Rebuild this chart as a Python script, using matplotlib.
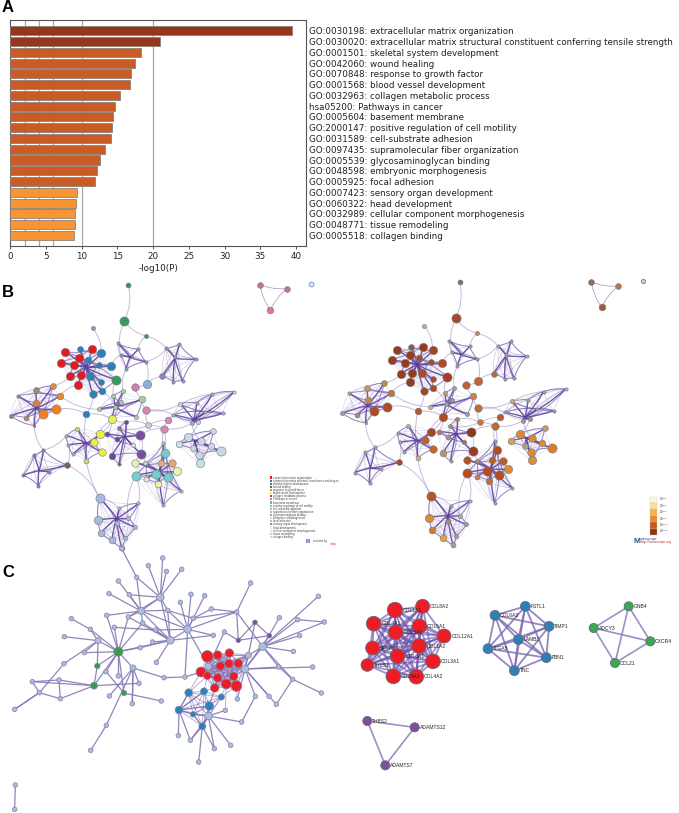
import itertools
import matplotlib
matplotlib.use("Agg")
import matplotlib.pyplot as plt
from matplotlib.collections import LineCollection
from matplotlib.patches import PathPatch, Rectangle
from matplotlib.path import Path

# ---- panel A
go_terms = [
    "GO:0030198: extracellular matrix organization",
    "GO:0030020: extracellular matrix structural constituent conferring tensile strength",
    "GO:0001501: skeletal system development",
    "GO:0042060: wound healing",
    "GO:0070848: response to growth factor",
    "GO:0001568: blood vessel development",
    "GO:0032963: collagen metabolic process",
    "hsa05200: Pathways in cancer",
    "GO:0005604: basement membrane",
    "GO:2000147: positive regulation of cell motility",
    "GO:0031589: cell-substrate adhesion",
    "GO:0097435: supramolecular fiber organization",
    "GO:0005539: glycosaminoglycan binding",
    "GO:0048598: embryonic morphogenesis",
    "GO:0005925: focal adhesion",
    "GO:0007423: sensory organ development",
    "GO:0060322: head development",
    "GO:0032989: cellular component morphogenesis",
    "GO:0048771: tissue remodeling",
    "GO:0005518: collagen binding",
]
log_p = [39.5, 20.9, 18.3, 17.4, 16.9, 16.8, 15.3, 14.7, 14.4, 14.3,
         14.1, 13.2, 12.5, 12.2, 11.8, 9.3, 9.25, 9.1, 9.0, 8.9]
bar_colors = ["#96361c"] * 2 + ["#c95c26"] * 13 + ["#f79433"] * 5

# ---- panel B, same layout on both sides. x, y, radius, left colour, right colour
# coordinates are read at 3x zoom, left panel
kernel_nodes = [
    (196, 217, 10, "#e41a1c", "#9a3a1c"), (275, 208, 10, "#e41a1c", "#9a3a1c"),
    (236, 234, 10, "#e41a1c", "#9a3a1c"), (183, 249, 10, "#e41a1c", "#9a3a1c"),
    (222, 256, 10, "#e41a1c", "#9a3a1c"), (210, 289, 10, "#e41a1c", "#9a3a1c"),
    (243, 286, 10, "#e41a1c", "#9a3a1c"), (235, 314, 10, "#e41a1c", "#9a3a1c"),
    (240, 208, 7, "#2f7fb8", "#8a5a44"), (304, 219, 10, "#2f7fb8", "#a8431f"),
    (263, 241, 8, "#2f7fb8", "#a0503a"), (332, 257, 10, "#2f7fb8", "#b04a24"),
    (298, 255, 7, "#2f7fb8", "#a04a2a"), (271, 288, 10, "#2f7fb8", "#b04a24"),
    (304, 305, 7, "#2f7fb8", "#a84a24"), (305, 333, 8, "#2f7fb8", "#a84a24"),
    (279, 342, 9, "#2f7fb8", "#a04a2a"), (348, 299, 11, "#3a9a5a", "#a83c1c"),
]
top_nodes = [
    (385, 14, 6, "#3d8c6e", "#8a6a5a"), (373, 123, 11, "#3a9a5a", "#a84a28"),
    (279, 145, 5, "#8aa0b8", "#b0b0a8"), (437, 168, 5, "#4a9070", "#b09070"),
]
triangle_nodes = [
    (780, 14, 7, "#c07888", "#9a6a50"), (861, 26, 7, "#c07888", "#c07840"),
    (811, 90, 8, "#e07888", "#a85a30"),
]
upper_mid_nodes = [
    (353, 190, 4, "#8a9cc0", "#a09a90"), (415, 207, 4, "#8a9cc0", "#a09a90"),
    (438, 245, 4, "#8a9cc0", "#a09a90"), (378, 267, 4, "#8a9cc0", "#a09a90"),
    (362, 225, 4, "#8a9cc0", "#a09a90"), (395, 232, 3, "#8a9cc0", "#a09a90"),
]
upper_right_nodes = [
    (499, 205, 4, "#8a9cc0", "#a0a0a8"), (538, 192, 4, "#8a9cc0", "#a0a0a8"),
    (587, 237, 4, "#8a9cc0", "#b0b0b0"), (548, 303, 4, "#8a9cc0", "#a0a0a8"),
    (520, 305, 4, "#8a9cc0", "#a0a0a8"), (487, 289, 7, "#8f88b8", "#b07040"),
    (525, 232, 4, "#8a9cc0", "#a0a0a8"),
]
green_nodes = [
    (369, 333, 5, "#a8d090", "#b0a080"), (340, 348, 5, "#a8d090", "#b0a080"),
    (363, 367, 5, "#a8d090", "#b09070"), (296, 388, 5, "#a8d090", "#d0b080"),
    (345, 380, 5, "#a8d090", "#a0a0a0"), (408, 410, 5, "#a8d090", "#a0a090"),
    (426, 357, 8, "#a8d090", "#c88050"), (336, 418, 10, "#e8f050", "#b04a20"),
]
side_nodes = [
    (440, 311, 10, "#8ab0d8", "#c8622c"), (405, 322, 9, "#d080a8", "#c06030"),
    (439, 391, 9, "#d888b0", "#c06a34"), (259, 402, 8, "#2f7fb8", "#b05a2a"),
]
orange_nodes = [
    (158, 317, 7, "#e08a40", "#c08850"), (107, 331, 7, "#a08868", "#c09858"),
    (180, 347, 8, "#e8882c", "#c07838"), (53, 348, 4, "#908878", "#a0a0a0"),
    (109, 368, 8, "#e0802c", "#c08850"), (129, 401, 11, "#f08020", "#b04a20"),
    (167, 388, 11, "#f08020", "#b04a20"), (78, 414, 6, "#c08860", "#a89068"),
    (33, 408, 5, "#908878", "#a0a0a0"), (103, 437, 3, "#908878", "#a0a0a0"),
]
right_nodes = [
    (703, 335, 4, "#c8d0dc", "#b0b0b8"), (637, 343, 4, "#a8a8c8", "#a0a0a8"),
    (590, 368, 4, "#a8a8c8", "#a0a0a8"), (541, 372, 5, "#c8d0dc", "#d8a858"),
    (668, 400, 4, "#a8a8c8", "#a0a0a8"), (616, 395, 4, "#a8a8c8", "#a0a0a8"),
    (520, 405, 4, "#a8a8c8", "#a0a0a8"), (595, 425, 5, "#c8d0dc", "#b09070"),
    (575, 430, 5, "#a8a8c8", "#a09a90"),
]
pink_nodes = [
    (505, 420, 8, "#d888b0", "#b85a2a"), (492, 446, 9, "#d888b0", "#c06a30"),
    (445, 435, 7, "#c8d0dc", "#c87a34"),
]
pale_blue_nodes = [
    (640, 453, 7, "#c8d8e8", "#b8a070"), (565, 470, 10, "#c8d8e8", "#e08a30"),
    (538, 491, 8, "#c8e0e8", "#d8a050"), (580, 505, 7, "#c8d8e8", "#b0a080"),
    (603, 483, 9, "#c8d8e8", "#e08a30"), (632, 497, 8, "#c8d8e8", "#e08a30"),
    (663, 512, 11, "#c8d8e8", "#e07a28"), (598, 525, 9, "#c8d8e8", "#e08a30"),
    (601, 548, 10, "#c8e0e0", "#d89030"),
]
purple_nodes = [
    (378, 425, 5, "#6a4a9a", "#b08050"), (357, 445, 5, "#8a78b8", "#b09060"),
    (420, 465, 11, "#7c4f9c", "#8a3a1c"), (350, 478, 6, "#6a4a9a", "#b09070"),
    (322, 463, 6, "#6a4a9a", "#b08050"), (398, 495, 5, "#d8e8d8", "#b07050"),
    (424, 522, 11, "#7c4f9c", "#a03c1c"), (335, 528, 8, "#6a4a9a", "#c09060"),
    (358, 552, 4, "#6a5a8a", "#a0a090"),
]
yellow_nodes = [
    (299, 463, 10, "#eef040", "#a84820"), (281, 487, 9, "#eef040", "#c06028"),
    (305, 516, 9, "#eef040", "#c8642c"), (259, 542, 6, "#c8d880", "#d0b080"),
    (231, 447, 5, "#b8d890", "#b0b0a0"), (199, 467, 4, "#a8a8c8", "#a0a0a8"),
    (205, 495, 4, "#a8a8c8", "#a0a0a8"), (218, 523, 4, "#a8a8c8", "#a0a0a8"),
]
lower_left_nodes = [
    (101, 525, 4, "#8a78b8", "#a0a0a8"), (130, 510, 4, "#8a78b8", "#a0a0a8"),
    (202, 555, 7, "#806050", "#a84a28"), (148, 575, 4, "#8a78b8", "#a0a0a8"),
    (115, 617, 4, "#8a78b8", "#a0a0a8"), (70, 586, 4, "#8a78b8", "#a0a0a8"),
]
teal_nodes = [
    (496, 518, 10, "#70d0c8", "#b84c20"), (407, 587, 11, "#70d0c8", "#b84c20"),
    (468, 581, 11, "#70d0c8", "#b84c20"), (503, 592, 11, "#70d0c8", "#b84c20"),
    (406, 548, 9, "#e8f0b0", "#b85020"), (483, 549, 8, "#e0b070", "#b86028"),
    (515, 550, 9, "#e0a870", "#b86028"), (530, 574, 10, "#f0f0b0", "#e08a30"),
    (474, 611, 8, "#f0f0b0", "#c86a30"), (437, 598, 6, "#e8f0c0", "#b88050"),
    (436, 550, 5, "#c8d8c0", "#b09070"), (490, 490, 4, "#a8c8b8", "#a0a090"),
    (543, 632, 4, "#a8a8c8", "#a0a0a8"), (490, 676, 4, "#a8a8c8", "#a0a0a8"),
]
bottom_nodes = [
    (299, 655, 11, "#a8b8dc", "#b8522a"), (294, 721, 10, "#a8b8dc", "#e08a30"),
    (303, 759, 8, "#a8b8dc", "#d07a30"), (336, 781, 8, "#a8b8dc", "#e8a030"),
    (365, 803, 6, "#a8b8dc", "#a0a098"), (375, 775, 5, "#a8b8dc", "#a0a098"),
    (405, 741, 5, "#a8b8dc", "#a0a098"), (385, 715, 5, "#a8b8dc", "#b0b090"),
    (415, 670, 4, "#a8b8dc", "#b0b090"), (358, 685, 4, "#a8b8dc", "#a0a098"),
    (350, 730, 6, "#a8b8dc", "#a09060"),
]

# groups: nodes, star centre, how strong the pairwise web is
b_groups = [
    (kernel_nodes, (258, 262), 0.12), (upper_mid_nodes, (390, 232), 0.45),
    (upper_right_nodes, (525, 235), 0.45), (green_nodes, (345, 380), 0.25),
    (orange_nodes, (108, 385), 0.35), (right_nodes, (580, 420), 0.4),
    (pale_blue_nodes, (585, 482), 0.3), (purple_nodes, (375, 470), 0.2),
    (yellow_nodes, (260, 490), 0.3), (lower_left_nodes, (117, 572), 0.5),
    (teal_nodes, (478, 575), 0.22), (bottom_nodes, (350, 715), 0.3),
    (triangle_nodes, None, 0.9), (pink_nodes, None, 0.7),
]
b_links = [
    (top_nodes, 0, top_nodes, 1), (top_nodes, 1, upper_mid_nodes, 4),
    (top_nodes, 2, kernel_nodes, 9), (top_nodes, 3, upper_mid_nodes, 1),
    (top_nodes, 3, upper_right_nodes, 0), (top_nodes, 1, top_nodes, 3),
    (kernel_nodes, 11, upper_mid_nodes, 4), (kernel_nodes, 17, kernel_nodes, 13),
    (kernel_nodes, 15, green_nodes, 4), (kernel_nodes, 17, green_nodes, 1),
    (kernel_nodes, 5, orange_nodes, 0), (kernel_nodes, 7, orange_nodes, 2),
    (kernel_nodes, 16, side_nodes, 3), (side_nodes, 3, orange_nodes, 6),
    (side_nodes, 3, green_nodes, 7), (side_nodes, 3, bottom_nodes, 0),
    (side_nodes, 0, side_nodes, 1), (side_nodes, 0, upper_mid_nodes, 2),
    (side_nodes, 0, upper_right_nodes, 5), (side_nodes, 1, green_nodes, 6),
    (side_nodes, 2, green_nodes, 6), (side_nodes, 2, pink_nodes, 2),
    (green_nodes, 6, green_nodes, 4), (green_nodes, 7, purple_nodes, 0),
    (green_nodes, 7, yellow_nodes, 0), (green_nodes, 7, yellow_nodes, 1),
    (green_nodes, 7, purple_nodes, 4), (pink_nodes, 1, right_nodes, 8),
    (pink_nodes, 0, right_nodes, 6), (pink_nodes, 2, purple_nodes, 0),
    (pink_nodes, 2, purple_nodes, 1), (pink_nodes, 1, purple_nodes, 2),
    (right_nodes, 7, pale_blue_nodes, 1), (right_nodes, 8, pale_blue_nodes, 4),
    (pink_nodes, 1, teal_nodes, 5), (pink_nodes, 1, teal_nodes, 11),
    (purple_nodes, 2, purple_nodes, 6), (purple_nodes, 6, teal_nodes, 4),
    (purple_nodes, 6, teal_nodes, 10), (yellow_nodes, 0, purple_nodes, 4),
    (yellow_nodes, 5, lower_left_nodes, 1), (lower_left_nodes, 2, yellow_nodes, 6),
    (lower_left_nodes, 2, bottom_nodes, 0), (orange_nodes, 9, lower_left_nodes, 1),
    (teal_nodes, 1, bottom_nodes, 8), (teal_nodes, 1, bottom_nodes, 7),
    (bottom_nodes, 0, bottom_nodes, 9), (side_nodes, 2, right_nodes, 3),
    (teal_nodes, 3, teal_nodes, 12), (teal_nodes, 2, teal_nodes, 13),
    (upper_right_nodes, 0, upper_mid_nodes, 2), (upper_mid_nodes, 3, green_nodes, 0),
    (side_nodes, 2, right_nodes, 6), (orange_nodes, 2, green_nodes, 3),
]

legend_terms = [
    "extracellular matrix organization",
    "extracellular matrix structural constituent conferring te",
    "skeletal system development",
    "wound healing",
    "response to growth factor",
    "blood vessel development",
    "collagen metabolic process",
    "Pathways in cancer",
    "basement membrane",
    "positive regulation of cell motility",
    "cell-substrate adhesion",
    "supramolecular fiber organization",
    "glycosaminoglycan binding",
    "embryonic morphogenesis",
    "focal adhesion",
    "sensory organ development",
    "head development",
    "cellular component morphogenesis",
    "tissue remodeling",
    "collagen binding",
]
legend_colors = ["#e41a1c", "#2f7fb8", "#3a9a5a", "#7c4f9c", "#e8882c", "#eef040", "#806050",
                 "#e07888", "#8aa0b8", "#70d0c8", "#e0b070", "#a8b8dc", "#d888b0", "#c8d8e8",
                 "#a8d090", "#8f88b8", "#f0f0b0", "#d8e8d8", "#c8d0dc", "#c8e0e0"]
scale_colors = ["#fdf6d8", "#fbdf9a", "#f5b44c", "#ea8a2e", "#c85a24", "#8c3318"]
scale_labels = ["10$^{-2}$", "10$^{-3}$", "10$^{-4}$", "10$^{-6}$", "10$^{-10}$", "10$^{-20}$"]

# ---- panel C, left network
c_x = [481, 423, 563, 511, 294, 399, 788, 735, 745, 625, 625,
       365, 410, 445, 488, 499, 545, 388, 503, 355, 327, 320, 385, 428, 467, 458, 421, 469,
       541, 573, 614, 634, 580, 710, 752, 640, 673, 838, 893, 955, 973, 899, 880, 836, 938,
       878, 964, 829, 807, 766, 712, 676, 725, 692, 643, 596, 571, 535, 555, 492, 484, 417,
       397, 355, 318, 328, 319, 272, 253, 192, 193, 214, 271, 343, 177, 181, 118, 97, 44,
       46, 44,
       355, 292, 282, 372,
       765, 808, 715,
       622, 653, 688, 661, 687, 715, 603, 622, 653, 701, 644, 679, 709,
       566, 612, 664, 628, 537, 579, 607]
c_y = [142, 183, 238, 271, 272, 354, 290, 357, 316, 498, 350,
       -4, 82, 47, 24, 64, 58, 134, 181, 93, 131, 196, 201, 219, 240, 276, 293, 337,
       157, 133, 137, 177, 205, 186, 99, 256, 246, 203, 209, 139, 216, 257, 304, 351, 351,
       388, 429, 463, 439, 439, 447, 481, 516, 586, 596, 636, 571, 557, 381, 383, 453, 400,
       461, 378, 365, 438, 526, 601, 308, 341, 260, 206, 238, 232, 390, 446, 428, 395, 478,
       705, 778,
       305, 348, 407, 429,
       217, 257, 271,
       319, 315, 309, 348, 341, 340, 366, 377, 384, 379, 414, 402, 408,
       428, 424, 441, 468, 480, 493, 529]
c_r = [10, 9, 10, 10, 8, 8, 10, 10, 8, 10, 9] + [6] * 70 + [12, 7, 9, 7] + [6, 6, 6] + \
      [15, 11, 11, 11, 11, 11, 13, 10, 11, 11, 11, 13, 14] + [10, 9, 8, 11, 10, 7, 9]
c_colors = ["#aebbdc"] * 81 + ["#3a9a4a"] * 4 + ["#7c4f9c"] * 3 + ["#ee1c25"] * 13 + ["#2f7fb8"] * 7
c_edges = [
    (11, 12), (12, 0), (12, 1), (13, 0), (14, 0), (15, 0), (16, 0), (17, 0), (1, 0), (18, 0),
    (22, 0), (0, 3), (1, 17), (1, 19), (1, 20), (1, 21), (1, 22), (1, 23), (1, 18), (1, 2), (1, 3),
    (2, 18), (2, 28), (2, 29), (2, 30), (2, 32), (2, 3), (2, 58), (2, 10), (2, 24), (2, 33),
    (3, 18), (3, 23), (3, 24), (3, 25), (3, 26), (3, 27), (3, 35), (3, 81), (3, 22),
    (4, 70), (4, 72), (4, 68), (4, 81), (4, 82), (71, 72), (72, 81), (73, 81), (22, 81), (23, 81),
    (26, 81), (5, 81), (63, 81), (64, 81), (82, 81), (83, 81), (84, 81), (21, 81), (68, 81), (69, 4),
    (5, 62), (5, 59), (5, 61), (5, 66), (5, 65), (73, 24), (59, 58), (61, 83), (58, 94), (66, 67),
    (74, 77), (74, 75), (74, 83), (77, 83), (75, 83), (76, 78), (76, 69), (76, 75), (77, 76),
    (82, 83), (84, 60), (84, 64), (6, 8), (6, 7), (6, 37), (6, 38), (6, 39), (6, 40), (6, 41),
    (6, 42), (6, 43), (6, 45), (6, 33), (85, 86), (85, 87), (86, 87), (85, 8), (86, 7), (87, 33),
    (34, 33), (33, 31), (33, 32), (35, 2), (36, 10), (36, 87), (45, 46), (45, 47), (38, 40), (45, 43),
    (7, 43), (7, 44), (7, 48), (7, 49), (7, 50), (7, 8), (7, 47), (49, 52), (9, 51), (9, 52), (9, 53),
    (9, 54), (9, 56), (9, 107), (9, 104), (9, 106), (105, 57), (105, 56), (105, 101), (105, 102),
    (105, 104), (105, 106), (107, 55), (107, 56), (107, 54), (107, 106), (31, 32), (62, 5), (78, 76),
    (79, 80), (18, 32),
]
c_red = list(range(88, 101)) + [7, 8, 10]
c_blue = list(range(101, 108)) + [9]
c_bridge = [(94, 101), (95, 102), (98, 104), (98, 102), (99, 103), (100, 103), (96, 104), (95, 101), (99, 51), (100, 50)]

# ---- panel C, right modules
red_x = [165, 248, 101, 238, 167, 312, 98, 237, 173, 279, 82, 160, 229]
red_y = [90, 79, 131, 139, 157, 168, 204, 198, 228, 244, 255, 289, 290]
red_r = [22, 20, 21, 21, 21, 20, 20, 21, 21, 21, 18, 21, 21]
red_names = ["COL1A1", "COL8A2", "COL4A1", "COL5A1", "COL5A2", "COL12A1", "SPARC",
             "COL1A2", "COL6A1", "COL3A1", "THBS1", "COL5A3", "COL4A2"]
blue_x = [556, 465, 627, 535, 444, 619, 523]
blue_y = [79, 106, 139, 179, 206, 233, 272]
blue_names = ["FSTL1", "COL6A3", "TIMP1", "LAMB1", "ITGA5", "FBN1", "TNC"]
green_x = [866, 761, 931, 825]
green_y = [79, 144, 184, 249]
green_names = ["GNB4", "ADCY3", "CXCR4", "CCL21"]
violet_x = [82, 224, 136]
violet_y = [423, 442, 556]
violet_names = ["THBS2", "ADAMTS12", "ADAMTS7"]

LABEL_FONT = ["Liberation Sans", "DejaVu Sans"]


def pts(r, k=1.25):
    # r is a radius in 3x zoom pixels, scatter wants points squared
    return (2 * r * k / 3 * 72 / 100) ** 2


def curve(ax, p, q, dx, dy, color, lw, alpha, bend, z):
    x0, y0 = p[0] / 3 + dx, p[1] / 3 + dy
    x1, y1 = q[0] / 3 + dx, q[1] / 3 + dy
    cx = (x0 + x1) / 2 - (y1 - y0) * bend
    cy = (y0 + y1) / 2 + (x1 - x0) * bend
    path = Path([(x0, y0), (cx, cy), (x1, y1)], [Path.MOVETO, Path.CURVE3, Path.CURVE3])
    ax.add_patch(PathPatch(path, fc="none", ec=color, lw=lw, alpha=alpha, zorder=z))


def draw_b(ax, dx, dy, color_col):
    for nodes, hub, web in b_groups:
        for a, b in itertools.combinations(nodes, 2):
            curve(ax, a, b, dx, dy, "#8a78b8", 0.45, web, 0.12, 2)
        if hub is not None:
            # outer ring is drawn stronger, the star is the darkest part
            for a, b in zip(nodes, nodes[1:] + nodes[:1]):
                curve(ax, a, b, dx, dy, "#7a68b0", 0.7, 0.75, 0.12, 2)
            for n in nodes:
                curve(ax, hub, n, dx, dy, "#5c3d9e", 1.0, 0.85, 0.06, 3)
    for k, (g0, i, g1, j) in enumerate(b_links):
        bend = 0.18 if k % 2 else -0.18
        curve(ax, g0[i], g1[j], dx, dy, "#a090c8", 0.7, 0.6, bend, 2)
    all_groups = [g[0] for g in b_groups] + [top_nodes, side_nodes]
    for nodes in all_groups:
        for n in nodes:
            ax.scatter(n[0] / 3 + dx, n[1] / 3 + dy, s=pts(n[2]), c=n[color_col],
                       edgecolors="#707a88", linewidths=0.4, zorder=5)


def module(ax, xs, ys, rs, color, names, lw, edge_color, alpha):
    px = [340 + v / 3 for v in xs]
    py = [580 + v / 3 for v in ys]
    segs = [[(px[a], py[a]), (px[b], py[b])] for a, b in itertools.combinations(range(len(px)), 2)]
    ax.add_collection(LineCollection(segs, colors=edge_color, linewidths=lw, alpha=alpha, zorder=2))
    ax.scatter(px, py, s=[pts(r, 1.05) for r in rs], c=color, edgecolors="#666b78", linewidths=0.6, zorder=5)
    for x, y, r, name in zip(px, py, rs, names):
        ax.text(x + r * 1.05 / 3 + 0.3, y, name, fontsize=3.6, family=LABEL_FONT, va="center", ha="left",
                color="#222222", zorder=6)


fig = plt.figure(figsize=(6.79, 8.13), dpi=100)

# overlay in picture pixels for the networks and panel letters
ov = fig.add_axes([0, 0, 1, 1])
ov.set_xlim(0, 679)
ov.set_ylim(813, 0)
ov.axis("off")

ax = fig.add_axes([10.3 / 679, 1 - 245.7 / 813, (306 - 10.3) / 679, (245.7 - 20.5) / 813])
ax.barh(range(len(log_p)), log_p, height=0.84, color=bar_colors, edgecolor="#8c8078", linewidth=0.6, zorder=3)
ax.set_xlim(0, 41.4)
ax.set_ylim(19.96, -0.96)
for g in [2, 4, 6, 10, 20]:
    ax.axvline(g, color="#a8a8a8", lw=0.9, zorder=1)
ax.set_xticks(range(0, 41, 5))
ax.set_yticks(range(len(go_terms)))
ax.set_yticklabels(go_terms)
ax.tick_params(axis="y", left=False, right=False, length=0, labelleft=False, labelright=True, pad=2, labelsize=6.3, labelcolor="#222222")
ax.tick_params(axis="x", labelsize=6.3, length=2.5, width=0.7, pad=2, labelcolor="#222222", color="#555555")
ax.set_xlabel("-log10(P)", fontsize=6.3, labelpad=2.5, color="#222222")
ax.patch.set_alpha(0)
for s in ax.spines.values():
    s.set_color("#555555")
    s.set_linewidth(0.8)

for letter, y in zip(["A", "B", "C"], [8, 292.5, 572.5]):
    ov.text(2, y, letter, fontsize=12, fontweight="bold", family=LABEL_FONT, va="center", ha="left")

# panel B
draw_b(ov, 0, 280, 3)
draw_b(ov, 340 - 26 / 3, 280 - 8 / 3, 4)
ov.scatter(311, 284, s=pts(6), c="#d8e4f0", edgecolors="#6a8ab0", linewidths=0.5, zorder=5)
ov.scatter(643, 281.5, s=pts(5), c="#d0d0d0", edgecolors="#666666", linewidths=0.5, zorder=5)

for i, (term, col) in enumerate(zip(legend_terms, legend_colors)):
    ly = 477.5 + i * 3.125
    ov.add_patch(Rectangle((270, ly - 1.1), 2.3, 2.2, fc=col, ec="none", zorder=5))
    ov.text(273, ly, term, fontsize=2.0, family=LABEL_FONT, va="center", ha="left", color="#444444")
ov.text(313, 541, "created by", fontsize=2.2, family=LABEL_FONT, va="center", color="#555555")
ov.text(306, 541, "M", fontsize=3.5, family=LABEL_FONT, va="center", color="#2a4fa0", fontweight="bold")
ov.text(330, 544, "metp", fontsize=2.2, family=LABEL_FONT, va="center", color="#c83030")

for i, (col, lab) in enumerate(zip(scale_colors, scale_labels)):
    sy = 496.5 + i * 6.4
    ov.add_patch(Rectangle((650.3, sy), 6.7, 6.4, fc=col, ec="#c8c0b0", lw=0.2, zorder=5))
    ov.text(659, sy + 3.2, lab, fontsize=2.2, family=LABEL_FONT, va="center", color="#444444")
ov.text(634, 541, "M", fontsize=6, family=LABEL_FONT, va="center", color="#2a4fa0", fontweight="bold")
ov.text(641, 538.5, "metascape", fontsize=2.4, family=LABEL_FONT, va="center", color="#2a4fa0")
ov.text(641, 542, "http://metascape.org", fontsize=2.4, family=LABEL_FONT, va="center", color="#c83030")

# panel C left
cx = [v / 3 for v in c_x]
cy = [550 + v / 3 for v in c_y]
segs = [[(cx[a], cy[a]), (cx[b], cy[b])] for a, b in c_edges]
ov.add_collection(LineCollection(segs, colors="#8678b4", linewidths=0.9, alpha=0.9, zorder=2))
red_segs = [[(cx[a], cy[a]), (cx[b], cy[b])] for a, b in itertools.combinations(c_red, 2)]
red_segs += [[(cx[a], cy[a]), (cx[b], cy[b])] for a, b in itertools.combinations(c_blue, 2)]
red_segs += [[(cx[a], cy[a]), (cx[b], cy[b])] for a, b in c_bridge]
ov.add_collection(LineCollection(red_segs, colors="#7a68b0", linewidths=0.6, alpha=0.6, zorder=2))
ov.scatter(cx, cy, s=[pts(r, 1.15) for r in c_r], c=c_colors, edgecolors="#7a88a8", linewidths=0.5, zorder=5)

# panel C right
module(ov, red_x, red_y, red_r, "#ee1c25", red_names, 1.3, "#6f56ae", 0.65)
module(ov, blue_x, blue_y, [14] * 7, "#2f7fb8", blue_names, 1.3, "#7a68b4", 0.8)
module(ov, green_x, green_y, [13] * 4, "#3aaa50", green_names, 1.2, "#8a7cbc", 0.85)
module(ov, violet_x, violet_y, [13] * 3, "#7c4f9c", violet_names, 1.2, "#8a7cbc", 0.85)

fig.savefig("out.png", dpi=100)
